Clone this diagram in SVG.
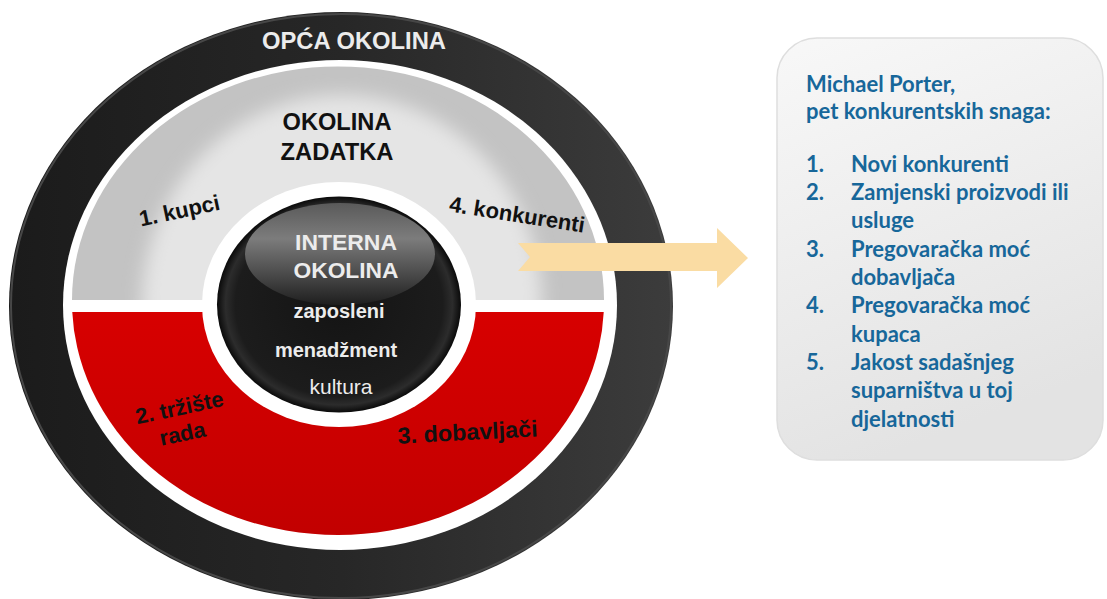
<svg xmlns="http://www.w3.org/2000/svg" width="1107" height="599" viewBox="0 0 1107 599">
<defs>
<linearGradient id="ringG" x1="0" y1="0" x2="1" y2="0">
<stop offset="0" stop-color="#1b1b1b"/><stop offset="0.5" stop-color="#272727"/><stop offset="1" stop-color="#3c3c3c"/>
</linearGradient>
<linearGradient id="redG" x1="0" y1="0" x2="0" y2="1">
<stop offset="0" stop-color="#ee0000"/><stop offset="1" stop-color="#c20000"/>
</linearGradient>
<radialGradient id="ballG" cx="0.5" cy="0.5" r="0.5">
<stop offset="0" stop-color="#141414"/><stop offset="0.85" stop-color="#1c1c1c"/><stop offset="0.93" stop-color="#2c2c2c"/><stop offset="1" stop-color="#0a0a0a"/>
</radialGradient>
<linearGradient id="hlG" x1="0" y1="0" x2="0" y2="1">
<stop offset="0" stop-color="#5a5a5a"/><stop offset="0.35" stop-color="#7c7c7c"/><stop offset="0.7" stop-color="#4a4a4a"/><stop offset="1" stop-color="#1e1e1e"/>
</linearGradient>
<linearGradient id="panelG" x1="0" y1="0" x2="0.3" y2="1">
<stop offset="0" stop-color="#f8f8f8"/><stop offset="1" stop-color="#e3e3e3"/>
</linearGradient>
<filter id="soft" x="-20%" y="-20%" width="140%" height="140%"><feGaussianBlur stdDeviation="9"/></filter>
<clipPath id="topHalf"><rect x="0" y="0" width="700" height="300"/></clipPath>
<clipPath id="botHalf"><rect x="0" y="312" width="700" height="300"/></clipPath>
<clipPath id="grayClip"><path d="M72,300 A266,233.5 0 0 1 604,300 Z"/></clipPath>
</defs>
<style>
.dk{font-family:"Liberation Sans",Arial,sans-serif;font-weight:bold;fill:#111;}
.wt{font-family:"Liberation Sans",Arial,sans-serif;font-weight:bold;fill:#ececec;}
.bl{font-family:Lato,"Open Sans",sans-serif;font-weight:bold;fill:#17679a;font-size:22px;}
</style>
<rect width="1107" height="599" fill="#ffffff"/>

<g id="opca-okolina">
<ellipse cx="341" cy="306" rx="332" ry="294" fill="url(#ringG)"/>
<ellipse cx="341" cy="306" rx="330" ry="292" fill="none" stroke="#474747" stroke-width="2"/>
<ellipse cx="340" cy="305" rx="277" ry="245" fill="#ffffff"/>
<text class="wt" x="354" y="49" font-size="24" text-anchor="middle" textLength="184" lengthAdjust="spacingAndGlyphs" fill="#ffffff">OPĆA OKOLINA</text>
</g>

<g id="okolina-zadatka">
<g clip-path="url(#grayClip)">
<rect x="60" y="50" width="560" height="260" fill="#c3c3c3"/>
<ellipse cx="342" cy="305" rx="200" ry="210" fill="#e5e5e5" filter="url(#soft)"/>
</g>
<ellipse cx="338" cy="301.5" rx="266" ry="233.5" fill="url(#redG)" clip-path="url(#botHalf)"/>
<text class="dk" x="337" y="130" font-size="24" text-anchor="middle" textLength="109" lengthAdjust="spacingAndGlyphs">OKOLINA</text>
<text class="dk" x="337" y="160" font-size="24" text-anchor="middle" textLength="113" lengthAdjust="spacingAndGlyphs">ZADATKA</text>
<text class="dk" font-size="22" text-anchor="middle" transform="translate(181,218) rotate(-12)">1. kupci</text>
<text class="dk" font-size="22" text-anchor="middle" transform="translate(516,222) rotate(9)">4. konkurenti</text>
<text class="dk" font-size="22" text-anchor="middle" fill="#1a0000" transform="translate(181,415) rotate(-12)">2. tržište</text>
<text class="dk" font-size="22" text-anchor="middle" fill="#1a0000" transform="translate(184,441) rotate(-12)">rada</text>
<text class="dk" font-size="23" text-anchor="middle" fill="#1a0000" transform="translate(468,440) rotate(-3)" textLength="140" lengthAdjust="spacingAndGlyphs">3. dobavljači</text>
</g>

<g id="interna-okolina">
<ellipse cx="339" cy="304.5" rx="137" ry="122.5" fill="#ffffff"/>
<ellipse cx="339" cy="304.5" rx="122" ry="108" fill="url(#ballG)"/>
<ellipse cx="340" cy="254" rx="95" ry="51" fill="url(#hlG)"/>
<text class="wt" x="346" y="250" font-size="22" text-anchor="middle" textLength="102" lengthAdjust="spacingAndGlyphs">INTERNA</text>
<text class="wt" x="346" y="278" font-size="22" text-anchor="middle" textLength="105" lengthAdjust="spacingAndGlyphs">OKOLINA</text>
<text class="wt" x="339" y="318" font-size="20" text-anchor="middle">zaposleni</text>
<text class="wt" x="336" y="357" font-size="20" text-anchor="middle">menadžment</text>
<text class="wt" x="341" y="394" font-size="21" text-anchor="middle" style="font-weight:normal">kultura</text>
</g>

<g id="connectors">
<path d="M518,243 L717,243 L717,228 L748,258 L717,288 L717,271 L518,271 L530,257 Z" fill="#fadca3"/>
</g>

<g id="porter-panel">
<rect x="777" y="38" width="326" height="422" rx="40" fill="url(#panelG)" stroke="#dedede" stroke-width="1.5"/>
<text class="bl" x="806" y="92">Michael Porter,</text>
<text class="bl" x="806" y="119">pet konkurentskih snaga:</text>
<text class="bl" x="806" y="172">1.</text><text class="bl" x="851" y="172">Novi konkurenti</text>
<text class="bl" x="806" y="200">2.</text><text class="bl" x="851" y="200">Zamjenski proizvodi ili</text>
<text class="bl" x="851" y="228">usluge</text>
<text class="bl" x="806" y="257">3.</text><text class="bl" x="851" y="257">Pregovaračka moć</text>
<text class="bl" x="851" y="285">dobavljača</text>
<text class="bl" x="806" y="313">4.</text><text class="bl" x="851" y="313">Pregovaračka moć</text>
<text class="bl" x="851" y="342">kupaca</text>
<text class="bl" x="806" y="370">5.</text><text class="bl" x="851" y="370">Jakost sadašnjeg</text>
<text class="bl" x="851" y="398">suparništva u toj</text>
<text class="bl" x="851" y="427">djelatnosti</text>
</g>
</svg>
